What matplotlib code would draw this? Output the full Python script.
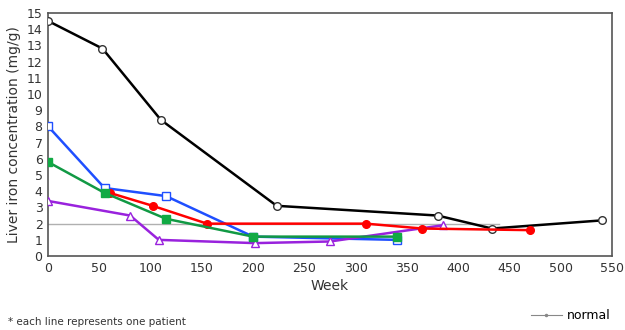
import numpy as np
import matplotlib.pyplot as plt
from matplotlib.lines import Line2D

# patient series (week, liver iron mg/g)
black_wk = [0, 53, 110, 223, 380, 433, 540]
black_val = [14.5, 12.8, 8.4, 3.1, 2.5, 1.7, 2.2]

blue_wk = [0, 55, 115, 200, 340]
blue_val = [8.0, 4.2, 3.7, 1.2, 1.0]

green_wk = [0, 55, 115, 200, 340]
green_val = [5.8, 3.9, 2.3, 1.2, 1.2]

red_wk = [60, 102, 155, 310, 365, 470]
red_val = [3.9, 3.1, 2.0, 2.0, 1.7, 1.6]

purple_wk = [0, 80, 108, 202, 275, 385]
purple_val = [3.4, 2.5, 1.0, 0.8, 0.9, 1.9]

normal_wk = [0, 440]
normal_val = [2, 2]

fig = plt.figure(figsize=(6.25, 3.3), dpi=100)
ax = fig.add_axes([0.077, 0.224, 0.902, 0.737])

ax.plot(normal_wk, normal_val, color='#b0b0b0', lw=1, zorder=1)
ax.plot(black_wk, black_val, color='black', lw=1.8, marker='o', ms=5.5,
        mfc='white', mec='#333333', mew=1, zorder=3)
ax.plot(red_wk, red_val, color='#ff0000', lw=1.8, marker='o', ms=5.5,
        mfc='#ff0000', mec='#ff0000', zorder=4)
ax.plot(blue_wk, blue_val, color='#1f4fff', lw=1.8, marker='s', ms=5.5,
        mfc='white', mec='#1f4fff', mew=1, zorder=3)
ax.plot(green_wk, green_val, color='#119944', lw=1.8, marker='s', ms=5.5,
        mfc='#11aa44', mec='#11aa44', zorder=4)
ax.plot(purple_wk, purple_val, color='#9922dd', lw=1.8, marker='^', ms=5.5,
        mfc='white', mec='#9922dd', mew=1, zorder=3)

ax.set_xlim(0, 550)
ax.set_ylim(0, 15)
ax.set_xticks(np.arange(0, 551, 50))
ax.set_yticks(np.arange(0, 16, 1))
ax.tick_params(length=0, labelsize=9, colors='#333333', pad=4)
for s in ax.spines.values():
    s.set_color('#555555')
    s.set_linewidth(1.2)

ax.set_xlabel('Week', fontsize=10, color='#333333', labelpad=3)
ax.set_ylabel('Liver iron concentration (mg/g)', fontsize=10, color='#333333', labelpad=4)

fig.text(0.013, 0.015, '* each line represents one patient', fontsize=7.5, color='#333333')
handle = Line2D([], [], color='#888888', lw=0.8, marker='.', ms=3)
fig.legend([handle], ['normal'], loc='lower right', bbox_to_anchor=(0.995, -0.01),
           frameon=False, fontsize=9, handlelength=2.5, handletextpad=0.4)

fig.savefig('out.png')
